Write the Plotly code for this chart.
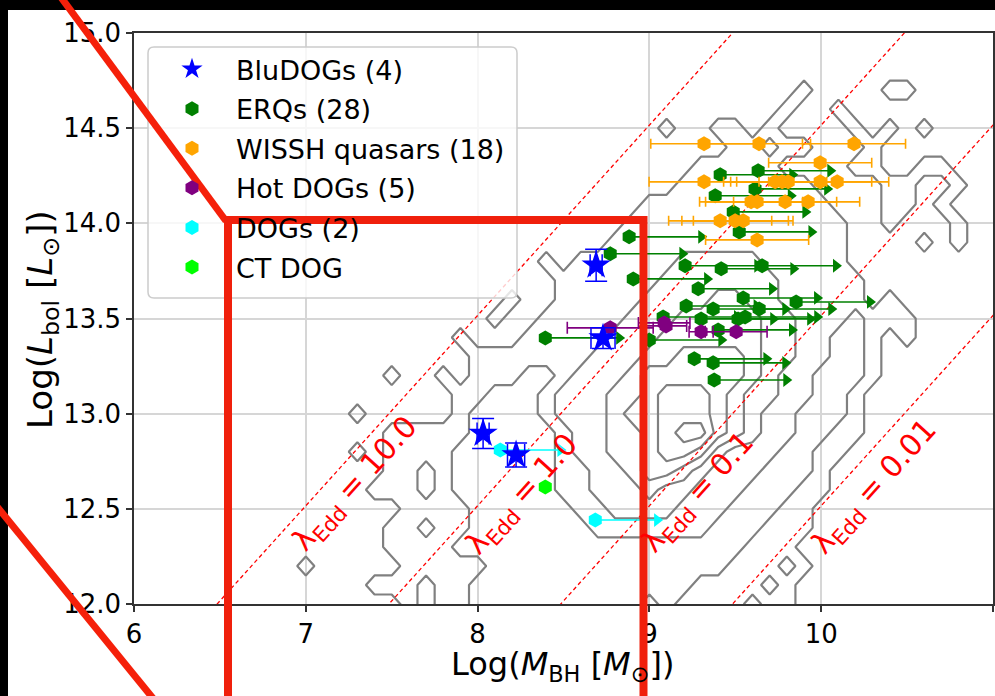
import plotly.graph_objects as go

W, H = 995, 696
ML, MR, MT, MB = 134, 2, 33, 92
PW, PH = W - ML - MR, H - MT - MB


def PX(px):
    return (px - ML) / PW


def PY(py):
    return (H - MB - py) / PH


# ---------------- data ----------------
BLUDOG_X = [8.032, 8.224, 8.690, 8.730]
BLUDOG_Y = [12.896, 12.783, 13.780, 13.397]
BLUDOG_XERR = [0.035, 0.050, 0.035, 0.070]
BLUDOG_YERR = [0.079, 0.063, 0.084, 0.055]

ERQ_X = [9.412, 9.633, 9.615, 9.383, 9.488, 9.523, 8.882, 8.772, 9.208, 9.418,
         9.656, 8.906, 9.284, 9.546, 9.854, 9.214, 9.371, 9.639, 9.080, 9.301,
         9.516, 9.557, 9.400, 8.999, 9.261, 9.371, 9.377, 8.394]
ERQ_Y = [14.255, 14.276, 14.181, 14.145, 14.060, 13.955, 13.929, 13.840, 13.777, 13.761,
         13.777, 13.708, 13.656, 13.608, 13.587, 13.566, 13.550, 13.550, 13.508, 13.498,
         13.498, 13.508, 13.440, 13.387, 13.288, 13.267, 13.177, 13.398]
ERQ_XLOLIM = [0.42, 0.42, 0.42, 0.44, 0.42, 0.42, 0.42, 0.42, 0.42, 0.42,
              0.43, 0.43, 0.43, 0.43, 0.43, 0.41, 0.42, 0.42, 0.43, 0.42,
              0.42, 0.42, 0.43, 0.42, 0.42, 0.42, 0.42, 0.43]

WISSH_X = [9.318, 9.638, 10.191, 9.994, 9.318, 9.732, 9.773, 9.808, 9.994, 10.093,
           9.592, 9.627, 9.790, 9.924, 9.412, 9.499, 9.546, 9.627]
WISSH_Y = [14.418, 14.418, 14.418, 14.318, 14.218, 14.218, 14.218, 14.218, 14.218, 14.218,
           14.113, 14.113, 14.113, 14.113, 14.013, 14.013, 14.013, 13.913]
WISSH_XERR = [0.31, 0.30, 0.30, 0.30, 0.32, 0.30, 0.30, 0.30, 0.30, 0.30,
              0.30, 0.30, 0.30, 0.30, 0.30, 0.31, 0.29, 0.30]

HOTDOG_X = [8.772, 9.086, 9.301, 9.505, 9.097]
HOTDOG_Y = [13.451, 13.477, 13.430, 13.430, 13.461]
HOTDOG_XERR = [0.25, 0.15, 0.07, 0.18, 0.12]

DOG_X = [8.132, 8.685]
DOG_Y = [12.809, 12.441]
DOG_XLOLIM = [0.35, 0.36]

CTDOG_X = [8.394]
CTDOG_Y = [12.615]

LEGEND_NAMES = ["BluDOGs (4)", "ERQs (28)", "WISSH quasars (18)",
                "Hot DOGs (5)", "DOGs (2)", "CT DOG"]

LAMBDA_EDD = [10.0, 1.0, 0.1, 0.01]
LAMBDA_LOG = [1, 0, -1, -2]          # log10 of LAMBDA_EDD
LAMBDA_TEXT = ["10.0", "1.0", "0.1", "0.01"]
LAMBDA_LABEL_X = [7.289, 8.266, 9.290, 10.314]
LAMBDA_LABEL_Y = [12.630, 12.573, 12.584, 12.610]
LOG_LEDD_PER_MSUN = 4.516   # log10(L_Edd/M_BH) in L_sun per M_sun

X_TICKS = [6, 7, 8, 9, 10, 11]
X_TICK_LABELS = ["6", "7", "8", "9", "10", "11"]
Y_TICKS = [12.0, 12.5, 13.0, 13.5, 14.0, 14.5, 15.0]
Y_TICK_LABELS = ["12.0", "12.5", "13.0", "13.5", "14.0", "14.5", "15.0"]

X_TITLE = "Log(<i>M</i><sub>BH</sub> [<i>M</i><sub>⊙</sub>])"
Y_TITLE = "Log(<i>L</i><sub>bol</sub> [<i>L</i><sub>⊙</sub>])"

# quasar-density histogram (levels)
# bin centres: x = 6.9 ... 11.0 (step 0.1), rows from y = 15.0 down to 11.9
GRID_X = [6.9, 7.0, 7.1, 7.2, 7.3, 7.4, 7.5, 7.6, 7.7, 7.8, 7.9, 8.0, 8.1, 8.2,
          8.3, 8.4, 8.5, 8.6, 8.7, 8.8, 8.9, 9.0, 9.1, 9.2, 9.3, 9.4, 9.5, 9.6,
          9.7, 9.8, 9.9, 10.0, 10.1, 10.2, 10.3, 10.4, 10.5, 10.6, 10.7, 10.8,
          10.9, 11.0]
GRID_Y_TOP_DOWN = [15.0, 14.9, 14.8, 14.7, 14.6, 14.5, 14.4, 14.3, 14.2, 14.1,
                   14.0, 13.9, 13.8, 13.7, 13.6, 13.5, 13.4, 13.3, 13.2, 13.1,
                   13.0, 12.9, 12.8, 12.7, 12.6, 12.5, 12.4, 12.3, 12.2, 12.1,
                   12.0, 11.9]
DENSITY_ROWS = [
    "0000000000 0000000000 0000000000 0000000000 00",  # 15.0
    "0000000000 0000000000 0000000000 0000000000 00",  # 14.9
    "0000000000 0000000000 0000000000 0000000000 00",  # 14.8
    "0000000000 0000000000 0000000000 1000011000 00",  # 14.7
    "0000000000 0000000000 0000000001 0010000000 00",  # 14.6
    "0000000000 0000000000 0010011010 0001010100 00",  # 14.5
    "0000000000 0000000000 0000001101 1000100000 00",  # 14.4
    "0000000000 0000000000 0000111110 0001100110 00",  # 14.3
    "0000000000 0000000000 0001111111 1000011001 00",  # 14.2
    "0000000000 0000000000 0111111111 1100011010 00",  # 14.1
    "0000000000 0000000000 1111111111 1110010001 00",  # 14.0
    "0000000000 0000000001 1111111111 1110000101 00",  # 13.9
    "0000000000 0000010111 1112222211 1110000000 00",  # 13.8
    "0000000000 0000001111 1122222221 1111000000 00",  # 13.7
    "0000000000 0001001111 1222233221 1111010000 00",  # 13.6
    "0000000000 0010011111 2223333322 1110111000 00",  # 13.5
    "0000000000 1000111112 2233333322 1100101000 00",  # 13.4
    "0000000000 0111111122 2334444322 1100100000 00",  # 13.3
    "0000001001 0111001222 3444444321 1000100000 00",  # 13.2
    "0000000000 1100012223 3455543221 1001000000 00",  # 13.1
    "0000100000 1000012223 4455543211 0001000000 00",  # 13.0
    "0000001111 1000001223 3456643211 0011000000 00",  # 12.9
    "0000101111 0000001223 3455421110 0110000000 00",  # 12.8
    "0000001101 0000001122 3443211100 0100000000 00",  # 12.7
    "0000011101 0000001122 2322111000 1100000000 00",  # 12.6
    "0000000111 1000000112 2221110001 1000000000 00",  # 12.5
    "0000001101 1000000011 1111100011 1000000000 00",  # 12.4
    "0000001111 0000000000 0000000111 0000000000 00",  # 12.3
    "0100000111 1100000000 0000001110 1000000000 00",  # 12.2
    "0000011101 1000000000 0000111101 0000000000 00",  # 12.1
    "0000000101 1000000000 0101111011 0000000000 00",  # 12.0
    "0000000001 1000000000 0111111111 0000000000 00",  # 11.9
]

# ---------------- figure ----------------
fig = go.Figure()

rows = [r.replace(" ", "").ljust(len(GRID_X), "0")[:len(GRID_X)] for r in DENSITY_ROWS]
Z = [[int(ch) for ch in r] for r in rows][::-1]
fig.add_trace(go.Contour(
    x=GRID_X, y=GRID_Y_TOP_DOWN[::-1], z=Z,
    contours=dict(start=0.5, end=5.5, size=1, coloring="none"),
    line=dict(color="#808080", width=2.2, smoothing=0),
    showscale=False, showlegend=False, hoverinfo="skip"))

for lg in LAMBDA_LOG:
    xs = [5.5, 11.5]
    fig.add_trace(go.Scatter(x=xs, y=[v + LOG_LEDD_PER_MSUN + lg for v in xs], mode="lines",
                             line=dict(color="red", width=1.3, dash="4px,3px"),
                             showlegend=False, hoverinfo="skip"))

GREEN, ORANGE, PURPLE, CYAN, LIME, BLUE = "#008000", "#ffa500", "#800080", "#00ffff", "#00ff00", "#0000ff"

# ERQs
fig.add_trace(go.Scatter(
    x=ERQ_X, y=ERQ_Y, mode="markers", name=LEGEND_NAMES[1], legendgroup="erq", legendrank=2,
    marker=dict(symbol="hexagon", size=15, color=GREEN),
    error_x=dict(type="data", symmetric=False, array=ERQ_XLOLIM, arrayminus=[0] * len(ERQ_X),
                 width=0, thickness=1.6, color=GREEN)))
fig.add_trace(go.Scatter(
    x=[a + d for a, d in zip(ERQ_X, ERQ_XLOLIM)], y=ERQ_Y, mode="markers", legendgroup="erq",
    showlegend=False, marker=dict(symbol="triangle-right", size=12, color=GREEN)))

# WISSH
fig.add_trace(go.Scatter(
    x=WISSH_X, y=WISSH_Y, mode="markers", name=LEGEND_NAMES[2], legendgroup="wissh", legendrank=3,
    marker=dict(symbol="hexagon", size=15, color=ORANGE),
    error_x=dict(type="data", array=WISSH_XERR, width=5, thickness=1.6, color=ORANGE)))

# Hot DOGs
fig.add_trace(go.Scatter(
    x=HOTDOG_X, y=HOTDOG_Y, mode="markers", name=LEGEND_NAMES[3], legendgroup="hot", legendrank=4,
    marker=dict(symbol="hexagon", size=15, color=PURPLE),
    error_x=dict(type="data", array=HOTDOG_XERR, width=6, thickness=1.6, color=PURPLE)))

# DOGs
fig.add_trace(go.Scatter(
    x=DOG_X, y=DOG_Y, mode="markers", name=LEGEND_NAMES[4], legendgroup="dog", legendrank=5,
    marker=dict(symbol="hexagon", size=15, color=CYAN),
    error_x=dict(type="data", symmetric=False, array=DOG_XLOLIM, arrayminus=[0] * len(DOG_X),
                 width=0, thickness=1.6, color=CYAN)))
fig.add_trace(go.Scatter(
    x=[a + d for a, d in zip(DOG_X, DOG_XLOLIM)], y=DOG_Y, mode="markers", legendgroup="dog",
    showlegend=False, marker=dict(symbol="triangle-right", size=12, color=CYAN)))

# CT DOG
fig.add_trace(go.Scatter(
    x=CTDOG_X, y=CTDOG_Y, mode="markers", name=LEGEND_NAMES[5], legendgroup="ct", legendrank=6,
    marker=dict(symbol="hexagon", size=15, color=LIME)))

# BluDOGs (on top)
fig.add_trace(go.Scatter(
    x=BLUDOG_X, y=BLUDOG_Y, mode="markers", name=LEGEND_NAMES[0], legendgroup="blu", legendrank=1,
    marker=dict(symbol="star", size=22, color=BLUE),
    error_x=dict(type="data", array=BLUDOG_XERR, width=11, thickness=1.5, color=BLUE),
    error_y=dict(type="data", array=BLUDOG_YERR, width=11, thickness=1.5, color=BLUE)))

for txt, lx, ly in zip(LAMBDA_TEXT, LAMBDA_LABEL_X, LAMBDA_LABEL_Y):
    fig.add_annotation(x=lx, y=ly, xref="x", yref="y",
                       text="λ<sub>Edd</sub> = " + txt, showarrow=False, textangle=-47.9,
                       font=dict(size=30, color="red"), xanchor="center", yanchor="middle")

# axis titles
fig.add_annotation(x=PX(562), y=PY(666), xref="paper", yref="paper", text=X_TITLE,
                   showarrow=False, font=dict(size=32, color="black"),
                   xanchor="center", yanchor="middle")
fig.add_annotation(x=PX(42), y=PY(320), xref="paper", yref="paper", text=Y_TITLE,
                   showarrow=False, textangle=-90, font=dict(size=34, color="black"),
                   xanchor="center", yanchor="middle")

# legend frame (rounded), page border (black) and red overlay marks
lx0, lx1, ly0, ly1, rr = PX(148), PX(517), PY(298), PY(47), 6
rx, ry = rr / PW, rr / PH
legend_path = (f"M {lx0 + rx},{ly1} L {lx1 - rx},{ly1} Q {lx1},{ly1} {lx1},{ly1 - ry} "
               f"L {lx1},{ly0 + ry} Q {lx1},{ly0} {lx1 - rx},{ly0} L {lx0 + rx},{ly0} "
               f"Q {lx0},{ly0} {lx0},{ly0 + ry} L {lx0},{ly1 - ry} Q {lx0},{ly1} {lx0 + rx},{ly1} Z")

shapes = [
    dict(type="path", xref="paper", yref="paper", path=legend_path,
         fillcolor="rgba(255,255,255,0.8)", line=dict(color="#cccccc", width=1.5), layer="above"),
    dict(type="rect", xref="paper", yref="paper", x0=PX(-5), x1=PX(1000), y0=PY(10), y1=PY(-5),
         fillcolor="black", line=dict(width=0), layer="above"),
    dict(type="rect", xref="paper", yref="paper", x0=PX(-5), x1=PX(8), y0=PY(700), y1=PY(-5),
         fillcolor="black", line=dict(width=0), layer="above"),
    dict(type="line", xref="paper", yref="paper", x0=PX(55.6), y0=PY(-10), x1=PX(226), y1=PY(221),
         line=dict(color="#f5200a", width=7), layer="above"),
    dict(type="rect", xref="paper", yref="paper", x0=PX(228), x1=PX(643.5), y0=PY(730), y1=PY(220),
         line=dict(color="#f0200c", width=8), layer="above"),
    dict(type="line", xref="paper", yref="paper", x0=PX(-10), y0=PY(498), x1=PX(156), y1=PY(702),
         line=dict(color="#f5200a", width=7), layer="above"),
]

axis_common = dict(showgrid=True, gridcolor="#d6d6d6", gridwidth=1.5, showline=True,
                   linecolor="#333333", linewidth=1.5, mirror=True, ticks="outside",
                   ticklen=6, tickwidth=1.5, tickcolor="#333333", zeroline=False,
                   tickfont=dict(size=26, color="black"), automargin=False)

fig.update_layout(
    width=W, height=H,
    margin=dict(l=ML, r=MR, t=MT, b=MB, autoexpand=False),
    paper_bgcolor="white", plot_bgcolor="white",
    font=dict(family="DejaVu Sans", color="black", size=26),
    hovermode=False,
    shapes=shapes,
    legend=dict(x=PX(148), y=PY(45), xanchor="left", yanchor="top",
                bgcolor="rgba(0,0,0,0)", borderwidth=0,
                font=dict(size=27), itemwidth=78, tracegroupgap=1.5, traceorder="grouped"),
    xaxis=dict(range=[6, 11], tickvals=X_TICKS, ticktext=X_TICK_LABELS, **axis_common),
    yaxis=dict(range=[12, 15], tickvals=Y_TICKS, ticktext=Y_TICK_LABELS, **axis_common),
)

fig.write_html("out.html")
